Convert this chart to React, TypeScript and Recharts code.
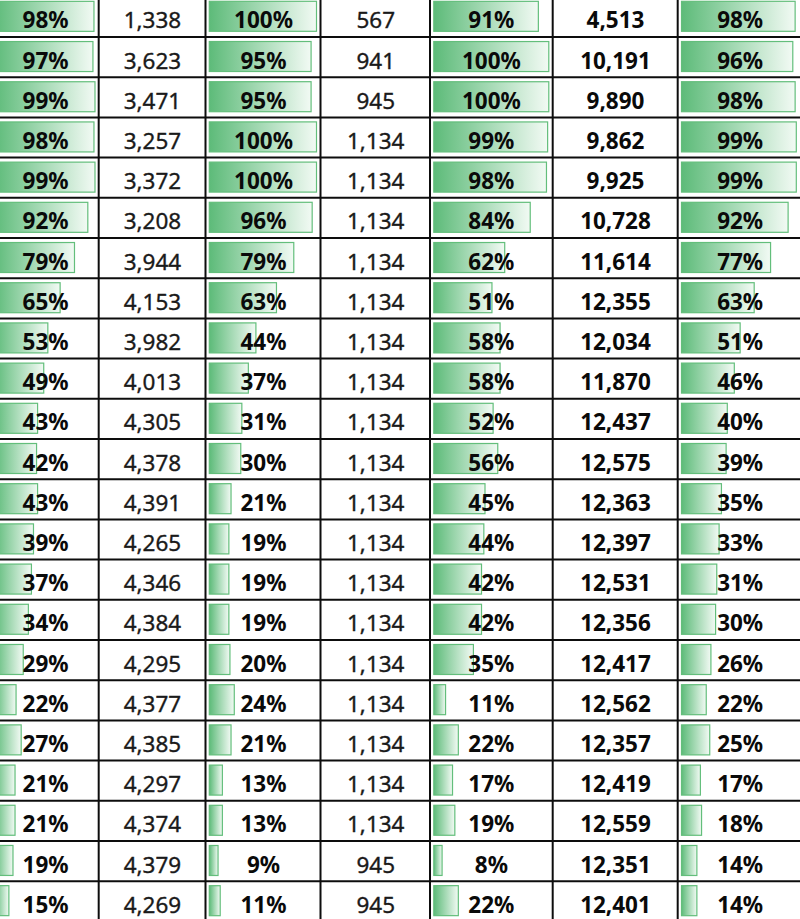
import React from "react";
import { BarChart, Bar, XAxis, YAxis, LabelList } from "recharts";

// ---- data ----
const ROW_IDS = ["r1","r2","r3","r4","r5","r6","r7","r8","r9","r10","r11","r12","r13","r14","r15","r16","r17","r18","r19","r20","r21","r22","r23"];
const COL_A_PCT = [98,97,99,98,99,92,79,65,53,49,43,42,43,39,37,34,29,22,27,21,21,19,15];
const COL_B_NUM = [1338,3623,3471,3257,3372,3208,3944,4153,3982,4013,4305,4378,4391,4265,4346,4384,4295,4377,4385,4297,4374,4379,4269];
const COL_C_PCT = [100,95,95,100,100,96,79,63,44,37,31,30,21,19,19,19,20,24,21,13,13,9,11];
const COL_D_NUM = [567,941,945,1134,1134,1134,1134,1134,1134,1134,1134,1134,1134,1134,1134,1134,1134,1134,1134,1134,1134,945,945];
const COL_E_PCT = [91,100,100,99,98,84,62,51,58,58,52,56,45,44,42,42,35,11,22,17,19,8,22];
const COL_F_NUM = [4513,10191,9890,9862,9925,10728,11614,12355,12034,11870,12437,12575,12363,12397,12531,12356,12417,12562,12357,12419,12559,12351,12401];
const COL_G_PCT = [98,96,98,99,99,92,77,63,51,46,40,39,35,33,31,30,26,22,25,17,18,14,14];

const data = ROW_IDS.map((id, i) => ({
  id,
  a: COL_A_PCT[i],
  b: COL_B_NUM[i],
  c: COL_C_PCT[i],
  d: COL_D_NUM[i],
  e: COL_E_PCT[i],
  f: COL_F_NUM[i],
  g: COL_G_PCT[i],
}));

// ---- layout ----
const W = 800;
const H = 919;
const ROW_H = 40.2;
const TOP = -3.2;
const CHART_H = ROW_H * ROW_IDS.length;
const FONT = "'Noto Sans', 'Open Sans', sans-serif";

type Col = {
  key: string;
  left: number;
  right: number;
  kind: "pct" | "num";
  barStart?: number;
  barEnd?: number;
  bold?: boolean;
};

const COLS: Col[] = [
  { key: "a", left: -8.5, right: 98.7, kind: "pct", barStart: -6.5, barEnd: 95 },
  { key: "b", left: 98.7, right: 205.5, kind: "num", bold: false },
  { key: "c", left: 205.5, right: 320.5, kind: "pct", barStart: 208.3, barEnd: 316.5 },
  { key: "d", left: 320.5, right: 430, kind: "num", bold: false },
  { key: "e", left: 430, right: 552.7, kind: "pct", barStart: 433.3, barEnd: 549.3 },
  { key: "f", left: 552.7, right: 677.7, kind: "num", bold: true },
  { key: "g", left: 677.7, right: 802, kind: "pct", barStart: 680.7, barEnd: 796.5 },
];

const fmt = (v: number) => v.toLocaleString("en-US");

function Column({ col }: { col: Col }) {
  const w = col.right - col.left;
  const values = data.map((d: any) => d[col.key] as number);
  const max = Math.max(...values);
  const isPct = col.kind === "pct";
  const ml = isPct ? (col.barStart as number) - col.left : 2;
  const mr = isPct ? col.right - (col.barEnd as number) : 2;
  const gid = `grad-${col.key}`;

  const shape = (p: any) => {
    if (!isPct) return <g />;
    const { x, y, width, height } = p;
    return (
      <rect
        x={x + 0.5}
        y={y - 1.2 + 0.5}
        width={Math.max(0, width - 1)}
        height={height - 1}
        fill={`url(#${gid})`}
        stroke="#63BE7B"
        strokeWidth={1.2}
      />
    );
  };

  const label = (p: any) => {
    const { y, height, value } = p;
    const bold = isPct || col.bold;
    return (
      <text
        x={w / 2}
        y={y + height / 2 + 10.9}
        textAnchor="middle"
        fontFamily={FONT}
        fontWeight={bold ? 700 : 400}
        fontSize={22.5}
        fill={bold ? "#0a0a0a" : "#1a1a1a"}
        stroke={bold ? "none" : "#1a1a1a"}
        strokeWidth={bold ? 0 : 0.35}
      >
        {isPct ? `${value}%` : fmt(value)}
      </text>
    );
  };

  return (
    <div style={{ position: "absolute", left: col.left, top: TOP, width: w, height: CHART_H }}>
      <BarChart
        layout="vertical"
        width={w}
        height={CHART_H}
        data={data}
        margin={{ top: 0, bottom: 0, left: ml, right: mr }}
        barCategoryGap={0}
      >
        <defs>
          <linearGradient id={gid} x1="0" y1="0" x2="1" y2="0">
            <stop offset="0" stopColor="#5DBB79" />
            <stop offset="1" stopColor="#F2FAF4" />
          </linearGradient>
        </defs>
        <XAxis type="number" hide domain={[0, max]} />
        <YAxis type="category" dataKey="id" hide />
        <Bar dataKey={col.key} barSize={31} shape={shape} isAnimationActive={false}>
          <LabelList dataKey={col.key} content={label} />
        </Bar>
      </BarChart>
    </div>
  );
}

function Grid() {
  const hLines = ROW_IDS.slice(1).map((_, i) => TOP + ROW_H * (i + 1));
  const vLines = COLS.slice(1).map((c) => c.left);
  return (
    <svg width={W} height={H} style={{ position: "absolute", left: 0, top: 0, pointerEvents: "none" }}>
      {hLines.map((y, i) => (
        <line key={"h" + i} x1={0} x2={W} y1={y} y2={y} stroke="#0d0d0d" strokeWidth={2} />
      ))}
      {vLines.map((x, i) => (
        <line key={"v" + i} x1={x} x2={x} y1={0} y2={H} stroke="#0d0d0d" strokeWidth={2} />
      ))}
    </svg>
  );
}

export default function App() {
  return (
    <div
      style={{
        position: "absolute",
        left: 0,
        top: 0,
        width: W,
        height: H,
        overflow: "hidden",
        background: "#fff",
      }}
    >
      {COLS.map((c) => (
        <Column key={c.key} col={c} />
      ))}
      <Grid />
    </div>
  );
}
